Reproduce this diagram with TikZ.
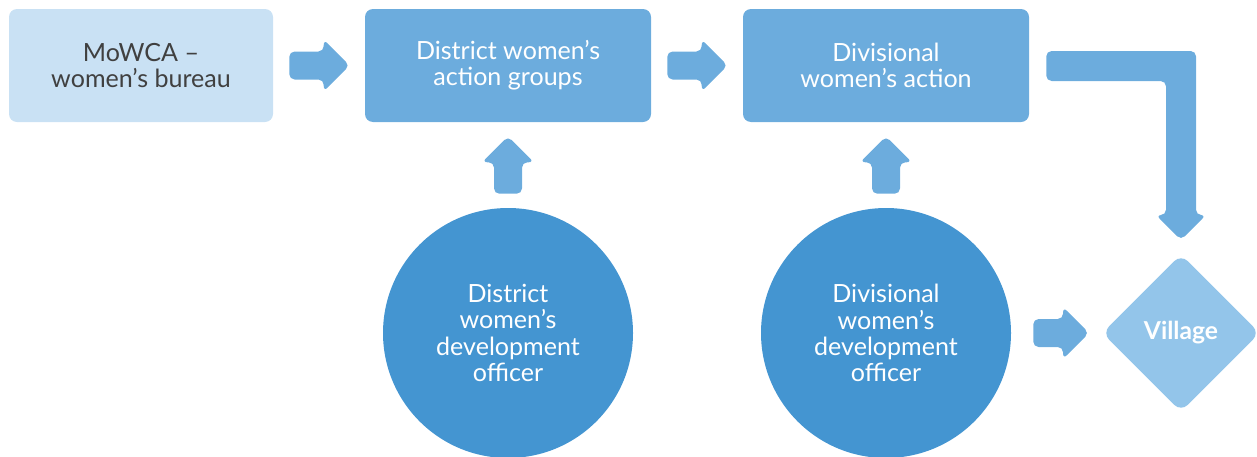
\documentclass[tikz,border=0pt]{standalone}
\usepackage{fontspec}
\setmainfont{Lato}
\usetikzlibrary{calc,shapes.geometric}
\definecolor{lightbox}{HTML}{C9E1F4}
\definecolor{midblue}{HTML}{6CACDD}
\definecolor{circblue}{HTML}{4495D1}
\definecolor{diamblue}{HTML}{93C5EA}
\definecolor{darktext}{HTML}{404040}
\tikzset{
  boxbase/.style={rectangle, rounded corners=6pt, minimum height=84.75pt, inner sep=0pt, align=center,
    font=\fontsize{18.8}{19.6}\selectfont},
  lightnode/.style={boxbase, fill=lightbox, text=darktext, minimum width=198pt},
  bluenode/.style={boxbase, fill=midblue, text=white, minimum width=214.5pt},
  circnode/.style={circle, fill=circblue, text=white, minimum size=187.5pt, inner sep=0pt, align=center,
    font=\fontsize{18.8}{19.6}\selectfont},
  diamnode/.style={diamond, aspect=1, fill=diamblue, text=white, minimum width=118pt, minimum height=118pt,
    inner sep=0pt, rounded corners=7pt, font=\fontsize{18.5}{19.5}\selectfont\bfseries},
  arr/.style={fill=midblue, rounded corners=4pt}
}
\begin{document}
\begin{tikzpicture}[x=0.75pt,y=-0.75pt]
\useasboundingbox (0,0) rectangle (1257,457);
\node[lightnode] (mowca) at (141,65.5) {MoWCA –\\women’s bureau};
\node[bluenode] (dwag) at (508,65.5) {District women’s\\action groups};
\node[bluenode] (dwa) at (886,65.5) {Divisional\\women’s action};
\node[circnode] (dwdo) at (508,333) {District\\women’s\\development\\officer};
\node[circnode] (vwdo) at (886,333) {Divisional\\women’s\\development\\officer};
\node[diamnode] (village) at (1181,333) {Village};
% right arrows
\coordinate (a1s) at ($(mowca.east)+(16,0)$);
\coordinate (a1e) at ($(dwag.west)+(-15,0)$);
\coordinate (a2s) at ($(dwag.east)+(16,0)$);
\coordinate (a2e) at ($(dwa.west)+(-15,0)$);
\coordinate (a3s) at ($(vwdo.east)+(22,0)$);
\coordinate (a3e) at ($(village.west)+(-13,0)$);
\foreach \s/\e in {a1s/a1e, a2s/a2e, a3s/a3e}{
  \fill[arr] ($(\s)+(0,-14)$) -- ($(\e)+(-26,-14)$) -- ($(\e)+(-26,-26)$) -- (\e)
    -- ($(\e)+(-26,26)$) -- ($(\e)+(-26,14)$) -- ($(\s)+(0,14)$) -- cycle;
}
% up arrows
\coordinate (u1s) at ($(dwdo.north)+(0,-14)$);
\coordinate (u1e) at ($(dwag.south)+(0,14)$);
\coordinate (u2s) at ($(vwdo.north)+(0,-14)$);
\coordinate (u2e) at ($(dwa.south)+(0,14)$);
\foreach \s/\e in {u1s/u1e, u2s/u2e}{
  \fill[arr] ($(\s)+(-14,0)$) -- ($(\e)+(-14,26)$) -- ($(\e)+(-26,26)$) -- (\e)
    -- ($(\e)+(26,26)$) -- ($(\e)+(14,26)$) -- ($(\s)+(14,0)$) -- cycle;
}
% L-shaped arrow
\coordinate (ls) at ($(dwa.east)+(17,0.5)$);
\coordinate (le) at ($(village.north)+(0,-14)$);
\fill[arr] ($(ls)+(0,-15)$) -- ($(le|-ls)+(15,-15)$) -- ($(le)+(15,-25)$) -- ($(le)+(25,-25)$)
  -- (le) -- ($(le)+(-25,-25)$) -- ($(le)+(-15,-25)$)
  -- ($(le|-ls)+(-15,15)$) -- ($(ls)+(0,15)$) -- cycle;
\end{tikzpicture}
\end{document}
